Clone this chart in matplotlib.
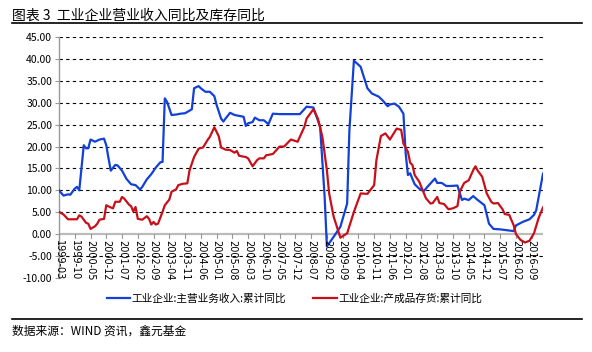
import numpy as np
import pandas as pd
import matplotlib
matplotlib.use("Agg")
import matplotlib.pyplot as plt
from matplotlib.lines import Line2D

plt.rcParams['font.family'] = ['Noto Sans CJK SC', 'DejaVu Sans']

# ── data (monthly category axis 1999-03 .. 2017-02) ──
start = pd.Period("1999-03", freq="M")
end = pd.Period("2017-02", freq="M")

rev_idx = [0, 2, 4, 5, 7, 8, 9, 11, 12, 13, 14, 16, 18, 20, 21, 22, 23, 25, 26, 28,
           30, 32, 34, 36, 37, 39, 41, 43, 45, 46, 47, 48, 50, 52, 54, 56, 58, 59, 60, 62,
           63, 65, 67, 69, 70, 72, 73, 74, 76, 78, 80, 82, 83, 84, 86, 87, 89, 91, 93, 95,
           98, 101, 104, 107, 110, 113, 116, 118, 119, 122, 125, 128, 129, 131, 134, 137, 139, 142, 144, 146,
           147, 149, 151, 153, 154, 155, 156, 157, 158, 160, 162, 164, 167, 168, 170, 172, 174, 177, 179, 180,
           182, 184, 186, 189, 191, 193, 196, 199, 202, 203, 206, 209, 211, 212, 215]
rev_val = [10.0, 8.8, 9.1, 9.0, 10.4, 10.8, 10.0, 20.3, 19.6, 19.6, 21.6, 21.1, 21.6, 21.8, 20.3, 17.3, 14.5, 15.8, 15.7, 14.5,
           12.6, 11.4, 11.2, 10.2, 10.8, 12.5, 13.7, 15.2, 16.4, 16.5, 31.0, 30.2, 27.2, 27.3, 27.5, 27.6, 28.2, 28.5, 33.3, 33.8,
           33.3, 32.5, 32.5, 31.5, 29.5, 26.4, 25.7, 26.4, 27.7, 27.2, 27.0, 26.8, 24.7, 25.3, 25.6, 26.6, 26.0, 26.0, 25.1, 27.5,
           27.4, 27.4, 27.4, 27.4, 29.1, 28.9, 24.5, 8.5, -2.8, -0.6, 1.7, 7.0, 23.7, 39.6, 38.2, 33.3, 32.1, 31.4, 30.4, 29.2,
           29.6, 29.8, 29.1, 27.5, 18.4, 13.5, 13.9, 12.6, 11.4, 10.4, 9.8, 11.0, 12.7, 11.7, 11.7, 11.0, 11.0, 11.1, 7.8, 8.1,
           7.8, 8.7, 7.8, 6.6, 2.4, 1.2, 1.1, 0.9, 0.7, 2.0, 2.8, 3.4, 4.4, 5.5, 13.8]

inv_idx = [0, 2, 4, 6, 8, 9, 10, 12, 13, 14, 16, 17, 18, 20, 21, 23, 24, 25, 27, 28,
           29, 31, 32, 33, 34, 35, 37, 39, 40, 41, 42, 43, 44, 46, 47, 49, 50, 52, 53, 55,
           57, 58, 60, 62, 64, 66, 67, 69, 71, 72, 74, 76, 78, 79, 80, 83, 84, 86, 88, 89,
           91, 92, 95, 98, 100, 103, 106, 109, 110, 113, 115, 117, 119, 120, 122, 125, 128, 131, 134, 137,
           140, 141, 143, 145, 147, 150, 152, 153, 155, 156, 157, 158, 160, 163, 165, 166, 168, 169, 171, 173,
           175, 177, 178, 180, 182, 184, 185, 186, 188, 190, 192, 193, 195, 197, 198, 200, 202, 203, 205, 207,
           209, 211, 213, 215]
inv_val = [5.1, 4.5, 3.4, 3.4, 3.4, 4.3, 4.0, 2.6, 2.4, 1.2, 1.8, 2.4, 3.3, 3.5, 6.6, 6.1, 5.9, 7.4, 7.4, 8.5,
           8.1, 6.8, 6.4, 5.2, 6.2, 3.5, 3.3, 4.1, 3.5, 2.2, 2.8, 2.2, 2.4, 5.1, 6.6, 7.9, 9.7, 10.2, 11.2, 11.5,
           11.6, 14.6, 17.6, 19.5, 19.8, 21.5, 22.2, 24.4, 22.3, 19.8, 19.3, 19.2, 18.6, 19.0, 17.9, 17.6, 17.3, 15.5, 16.9, 17.3,
           17.3, 18.0, 18.3, 20.0, 20.0, 21.6, 21.1, 24.5, 26.4, 28.5, 26.4, 22.2, 14.6, 9.3, 4.0, -0.8, 0.2, 5.1, 9.3, 9.2,
           11.2, 16.9, 22.4, 23.0, 21.6, 24.1, 23.8, 20.7, 18.8, 16.3, 15.8, 13.5, 12.0, 8.2, 7.0, 7.1, 8.5, 7.1, 6.9, 5.7,
           5.9, 6.4, 9.7, 11.7, 12.3, 14.6, 15.5, 14.5, 13.1, 9.3, 7.4, 7.0, 7.1, 5.7, 4.6, 4.4, 2.0, 0.0, -1.3, -1.9,
           -1.5, 0.2, 3.6, 6.1]

months = pd.period_range(start, end, freq="M")
tick_pos = list(range(0, len(months), 7))
tick_labels = [months[i].strftime("%Y-%m") for i in tick_pos]

blue = "#1240D8"
red = "#C8101A"

# ── figure ──
fig = plt.figure(figsize=(5.92, 3.52), dpi=100)
ax = fig.add_axes([59/592, 1 - 278/352, 484/592, 241/352])

ax.plot(rev_idx, rev_val, color=blue, lw=1.6, zorder=3)
ax.plot(inv_idx, inv_val, color=red, lw=1.6, zorder=3)

ax.set_xlim(0, len(months) - 1)
ax.set_ylim(-10, 45)
ax.set_yticks(np.arange(-10, 46, 5))
ax.yaxis.set_major_formatter(matplotlib.ticker.FuncFormatter(lambda v, _: f"{v:.2f}"))
ax.tick_params(axis="y", labelsize=7.5, length=3, color="#999999", pad=2)

for v in np.arange(-10, 46, 5):
    if v != 0:
        ax.axhline(v, color="black", lw=0.8, ls=(0, (3, 3)), zorder=1)
ax.axhline(0, color="#BBBBBB", lw=1.6, zorder=2)

for s in ["top", "right", "bottom"]:
    ax.spines[s].set_visible(False)
ax.spines["left"].set_color("#999999")
ax.spines["left"].set_linewidth(1.0)

ax.set_xticks([])
for p, lab in zip(tick_pos, tick_labels):
    ax.plot([p, p], [0, -0.9], color="#999999", lw=0.8, clip_on=False, zorder=2)
    ax.text(p, -1.3, lab, rotation=270, ha="center", va="top", fontsize=7,
            family="DejaVu Sans", zorder=4)

# legend
h1 = Line2D([], [], color=blue, lw=1.6)
h2 = Line2D([], [], color=red, lw=1.6)
fig.legend([h1, h2], ["工业企业:主营业务收入:累计同比", "工业企业:产成品存货:累计同比"],
           loc="center", bbox_to_anchor=(0.497, 1 - 299/352), ncol=2, frameon=False,
           fontsize=7.7, handlelength=2.2, handletextpad=0.1, columnspacing=2.6)

# title, source, rules
fig.text(12/592, 1 - 16/352, "图表 3  工业企业营业收入同比及库存同比", fontsize=10,
         ha="left", va="center", weight="medium")
fig.add_artist(Line2D([12/592, 582/592], [1 - 23/352, 1 - 23/352], color="black", lw=1.2))
fig.add_artist(Line2D([12/592, 582/592], [1 - 319/352, 1 - 319/352], color="black", lw=1.2))
fig.text(12/592, 1 - 331/352, "数据来源：WIND 资讯，鑫元基金", fontsize=8.5,
         ha="left", va="center", weight="medium")

fig.savefig("out.png", dpi=100)
